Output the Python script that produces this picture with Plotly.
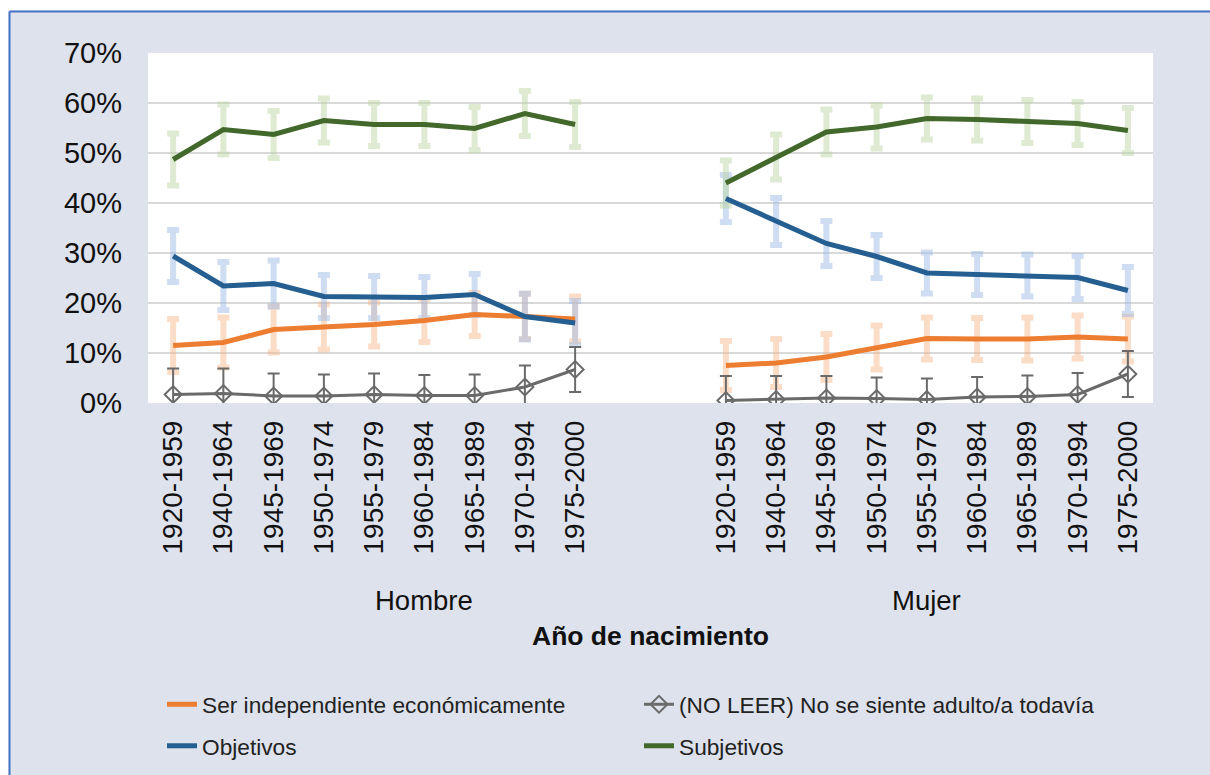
import plotly.graph_objects as go

# ---------------- data ----------------
cohorts = ["1920-1959", "1940-1964", "1945-1969", "1950-1974", "1955-1979",
           "1960-1984", "1965-1989", "1970-1994", "1975-2000"]
groups = ["Hombre", "Mujer"]

indep_h = [11.5, 12.1, 14.7, 15.2, 15.7, 16.5, 17.7, 17.3, 16.8]
indep_m = [7.5, 8.0, 9.2, 11.1, 12.9, 12.8, 12.8, 13.2, 12.8]
noleer_h = [1.7, 1.9, 1.4, 1.4, 1.7, 1.5, 1.5, 3.2, 6.7]
noleer_m = [0.5, 0.7, 1.0, 0.9, 0.7, 1.2, 1.3, 1.7, 5.8]
obj_h = [29.4, 23.4, 23.9, 21.3, 21.2, 21.1, 21.7, 17.3, 16.0]
obj_m = [40.9, 36.3, 31.9, 29.3, 26.0, 25.7, 25.5, 25.1, 22.5]
subj_h = [48.7, 54.7, 53.7, 56.5, 55.7, 55.7, 54.9, 57.9, 55.7]
subj_m = [44.0, 49.2, 54.2, 55.2, 56.9, 56.7, 56.3, 55.9, 54.5]

indep_err_h = [5.3, 5.0, 4.6, 4.5, 4.4, 4.3, 4.3, 4.5, 4.5]
indep_err_m = [4.9, 4.8, 4.6, 4.4, 4.2, 4.2, 4.3, 4.3, 4.5]
noleer_err_h = [5.2, 5.0, 4.5, 4.3, 4.2, 4.1, 4.2, 4.3, 4.5]
noleer_err_m = [4.9, 4.7, 4.4, 4.2, 4.2, 4.0, 4.2, 4.3, 4.6]
obj_err_h = [5.2, 4.8, 4.6, 4.3, 4.2, 4.1, 4.1, 4.6, 4.4]
obj_err_m = [4.7, 4.7, 4.5, 4.3, 4.1, 4.1, 4.2, 4.3, 4.7]
subj_err_h = [5.2, 5.0, 4.7, 4.4, 4.3, 4.3, 4.3, 4.5, 4.5]
subj_err_m = [4.5, 4.5, 4.5, 4.3, 4.2, 4.2, 4.3, 4.3, 4.5]

y_ticks = [0, 10, 20, 30, 40, 50, 60, 70]

# ---------------- category slots ----------------
GAP = 2  # empty category slots between the two groups (as in the original chart)
slot_labels = cohorts + [""] * GAP + cohorts
x_slots = list(range(len(slot_labels)))
blank = [None] * GAP


def join(h, m):
    return list(h) + blank + list(m)


FONT = "Liberation Sans"
fig = go.Figure()

# light error bars first (drawn beneath all lines)
err_specs = [
    (indep_h, indep_m, indep_err_h, indep_err_m, "rgba(244,177,131,0.45)"),
    (obj_h, obj_m, obj_err_h, obj_err_m, "rgba(160,188,230,0.5)"),
    (subj_h, subj_m, subj_err_h, subj_err_m, "rgba(190,215,165,0.5)"),
]
for vh, vm, eh, em, col in err_specs:
    fig.add_trace(go.Scatter(
        x=x_slots, y=join(vh, vm), mode="markers",
        marker=dict(size=1, color="rgba(0,0,0,0)"),
        error_y=dict(type="data", array=join(eh, em), visible=True,
                     color=col, thickness=6, width=6),
        showlegend=False, hoverinfo="skip"))

# lines
fig.add_trace(go.Scatter(
    x=x_slots, y=join(indep_h, indep_m), mode="lines",
    name="Ser independiente económicamente",
    line=dict(color="#ED7D31", width=5), connectgaps=False,
    legend="legend", legendgroup="a"))
fig.add_trace(go.Scatter(
    x=x_slots, y=join(noleer_h, noleer_m), mode="lines+markers",
    name="(NO LEER) No se siente adulto/a todavía",
    line=dict(color="#6A6A6A", width=3), connectgaps=False,
    marker=dict(symbol="diamond-open", size=13, color="#6A6A6A",
                line=dict(width=2, color="#6A6A6A")),
    error_y=dict(type="data", array=join(noleer_err_h, noleer_err_m),
                 visible=True, color="#6A6A6A", thickness=2, width=6),
    legend="legend2", legendgroup="b"))
fig.add_trace(go.Scatter(
    x=x_slots, y=join(obj_h, obj_m), mode="lines",
    name="Objetivos",
    line=dict(color="#255E91", width=5), connectgaps=False,
    legend="legend", legendgroup="c"))
fig.add_trace(go.Scatter(
    x=x_slots, y=join(subj_h, subj_m), mode="lines",
    name="Subjetivos",
    line=dict(color="#43682B", width=5), connectgaps=False,
    legend="legend2", legendgroup="d"))

W, H = 1210, 775
ML, MR, MT, MB = 148, 57, 53, 372
PW, PH = W - ML - MR, H - MT - MB


def px_x(p):  # page pixel -> paper x
    return (p - ML) / PW


def px_y(p):  # page pixel -> paper y
    return (H - MB - p) / PH


BG = "#DEE2EC"
BORDER = "#4472C4"
shapes = [
    dict(type="rect", xref="paper", yref="paper", x0=px_x(0), x1=px_x(W),
         y0=px_y(10.5), y1=px_y(0), fillcolor="white", line=dict(width=0)),
    dict(type="rect", xref="paper", yref="paper", x0=px_x(0), x1=px_x(8.5),
         y0=px_y(H), y1=px_y(0), fillcolor="white", line=dict(width=0)),
    dict(type="line", xref="paper", yref="paper", x0=px_x(9.5), x1=px_x(W),
         y0=px_y(11.5), y1=px_y(11.5), line=dict(color=BORDER, width=2)),
    dict(type="line", xref="paper", yref="paper", x0=px_x(9.5), x1=px_x(9.5),
         y0=px_y(11.5), y1=px_y(H), line=dict(color=BORDER, width=2)),
]

h_center = (len(cohorts) + GAP - 1) / 2
m_center = len(cohorts) + GAP + (len(cohorts) - 1) / 2
annotations = [
    dict(x=h_center, y=px_y(600), xref="x", yref="paper", text=groups[0],
         showarrow=False, font=dict(family=FONT, size=27.5, color="#111111"),
         xanchor="center", yanchor="middle"),
    dict(x=m_center, y=px_y(600), xref="x", yref="paper", text=groups[1],
         showarrow=False, font=dict(family=FONT, size=27.5, color="#111111"),
         xanchor="center", yanchor="middle"),
    dict(x=px_x(650), y=px_y(636), xref="paper", yref="paper",
         text="<b>Año de nacimiento</b>", showarrow=False,
         font=dict(family=FONT, size=26.5, color="#111111"),
         xanchor="center", yanchor="middle"),
]

legend_common = dict(
    orientation="v", bgcolor="rgba(0,0,0,0)", borderwidth=0,
    font=dict(family=FONT, size=22.7, color="#222222"),
    xanchor="left", yanchor="top", xref="container", yref="container",
    tracegroupgap=9, traceorder="grouped")

fig.update_layout(
    width=W, height=H, autosize=False,
    margin=dict(l=ML, r=MR, t=MT, b=MB, pad=0, autoexpand=False),
    paper_bgcolor=BG, plot_bgcolor="white",
    showlegend=True,
    legend=dict(x=162 / W, y=1 - 683 / H, **legend_common),
    legend2=dict(x=639 / W, y=1 - 683 / H, **legend_common),
    xaxis=dict(
        range=[-0.5, len(slot_labels) - 0.5], tickmode="array",
        tickvals=x_slots, ticktext=slot_labels, tickangle=-90,
        showgrid=False, zeroline=False, showline=False, ticks="",
        tickfont=dict(family=FONT, size=28, color="#111111"),
        ticklabelstandoff=11, fixedrange=True, automargin=False),
    yaxis=dict(
        range=[0, 70], tickmode="array", tickvals=y_ticks,
        ticktext=[f"{v}%" for v in y_ticks],
        showgrid=True, gridcolor="#D9D9D9", gridwidth=2,
        zeroline=False, showline=False, ticks="",
        tickfont=dict(family=FONT, size=29, color="#111111"),
        ticklabelstandoff=25, fixedrange=True, automargin=False),
    shapes=shapes, annotations=annotations,
)

fig.write_html(
    "out.html",
    config={"displayModeBar": False, "staticPlot": True},
    post_script="document.body.style.margin='0px';"
                "document.documentElement.style.overflow='hidden';",
)
